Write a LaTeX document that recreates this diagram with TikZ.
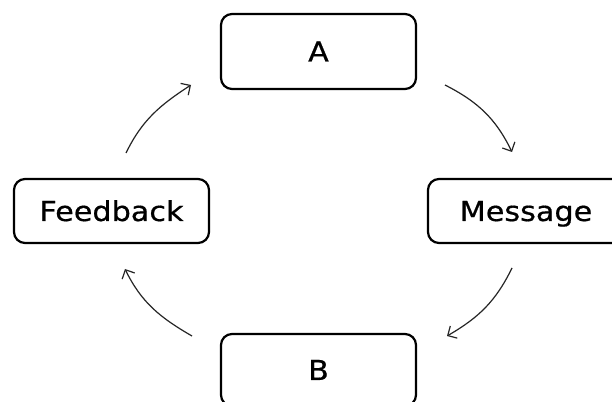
\documentclass[tikz,border=0pt]{standalone}
\usepackage{fontspec}
\setmainfont{DejaVu Sans}
\newfontfamily\boxfont{DejaVu Sans}[FakeBold=0.6]
\usetikzlibrary{arrows.meta}
\begin{document}
\begin{tikzpicture}[x=1pt,y=1pt,
  box/.style={draw=black, line width=2.2pt, rounded corners=11pt, fill=white,
    minimum width=195pt, inner sep=0pt, text height=20pt, text depth=0pt,
    font=\boxfont\fontsize{27.5}{32}\selectfont},
  flow/.style={line width=1.2pt, draw=black!85, -{Straight Barb[length=7pt,width=14pt,line width=1.2pt]}}]
\useasboundingbox (0,0) rectangle (612,401);
\clip (0,0) rectangle (612,401);
\fill[white] (0,0) rectangle (612,401);
\node[box, minimum height=75pt] (A) at (318.5,349.5) {\scalebox{1.1}[1]{A}};
\node[box, minimum height=64pt] (F) at (111.5,190) {\scalebox{1.1}[1]{Feedback}};
\node[box, minimum height=64pt, minimum width=196pt] (M) at (526,190) {\scalebox{1.1}[1]{Message}};
\node[box, minimum height=72pt] (B) at (318.5,31) {\scalebox{1.1}[1]{B}};
\coordinate (f1) at (126,248);
\coordinate (a1) at (191,316);
\coordinate (a2) at (445,316);
\coordinate (m1) at (512,249);
\coordinate (m2) at (512,133);
\coordinate (b1) at (447,65);
\coordinate (b2) at (192,65);
\coordinate (f2) at (125,132);
\draw[flow] (f1) to[out=64,in=213] (a1);
\draw[flow] (a2) to[out=-27,in=116] (m1);
\draw[flow] (m2) to[out=-116,in=30] (b1);
\draw[flow] (b2) to[out=150,in=-64] (f2);
\end{tikzpicture}
\end{document}
